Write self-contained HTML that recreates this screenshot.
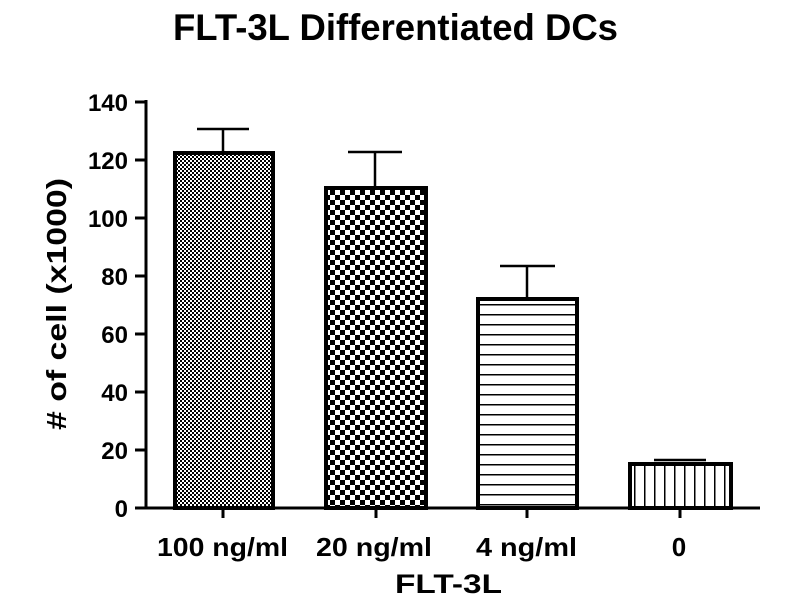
<!DOCTYPE html>
<html><head><style>body{margin:0;background:#fff}</style></head><body>
<svg width="800" height="600" xmlns="http://www.w3.org/2000/svg" font-family="Liberation Sans, sans-serif" font-weight="bold">
<defs>
<pattern id="p1" width="4" height="4" patternUnits="userSpaceOnUse"><rect width="4" height="4" fill="#fff"/><rect width="2" height="2" fill="#000"/><rect x="2" y="2" width="2" height="2" fill="#000"/></pattern>
<pattern id="p2" width="10" height="10" patternUnits="userSpaceOnUse"><rect width="10" height="10" fill="#fff"/><rect width="5" height="5" fill="#000"/><rect x="5" y="5" width="5" height="5" fill="#000"/></pattern>
<pattern id="p3" width="10" height="10" patternUnits="userSpaceOnUse"><rect width="10" height="10" fill="#fff"/><rect y="4" width="10" height="1.5" fill="#000"/></pattern>
<pattern id="p4" width="10" height="10" patternUnits="userSpaceOnUse"><rect width="10" height="10" fill="#fff"/><rect x="4" width="1.5" height="10" fill="#000"/></pattern>
</defs>
<text x="173" y="40" font-size="37" textLength="445" lengthAdjust="spacingAndGlyphs">FLT-3L Differentiated DCs</text>
<g stroke="#000" stroke-width="3">
<line x1="146" y1="100" x2="146" y2="509"/>
<line x1="146" y1="508" x2="760" y2="508"/>
<line x1="135" y1="102" x2="146" y2="102"/>
<line x1="135" y1="160" x2="146" y2="160"/>
<line x1="135" y1="218" x2="146" y2="218"/>
<line x1="135" y1="276" x2="146" y2="276"/>
<line x1="135" y1="334" x2="146" y2="334"/>
<line x1="135" y1="392" x2="146" y2="392"/>
<line x1="135" y1="450" x2="146" y2="450"/>
<line x1="135" y1="508" x2="146" y2="508"/>
<line x1="223" y1="508" x2="223" y2="518"/>
<line x1="376" y1="508" x2="376" y2="518"/>
<line x1="527" y1="508" x2="527" y2="518"/>
<line x1="680" y1="508" x2="680" y2="518"/>
</g>
<g stroke="#000" stroke-width="2.5">
<line x1="223" y1="151" x2="223" y2="129"/><line x1="197" y1="129" x2="249" y2="129"/>
<line x1="375" y1="186" x2="375" y2="152"/><line x1="348" y1="152" x2="402" y2="152"/>
<line x1="527" y1="297" x2="527" y2="266"/><line x1="500" y1="266" x2="555" y2="266"/>
<line x1="654" y1="460" x2="706" y2="460"/>
</g>
<g stroke="#000" stroke-width="4">
<rect x="175" y="153" width="98" height="355" fill="url(#p1)"/>
<rect x="326" y="188" width="100" height="320" fill="url(#p2)"/>
<rect x="478" y="299" width="99" height="209" fill="url(#p3)"/>
<rect x="630" y="464" width="101" height="44" fill="url(#p4)"/>
</g>
<g font-size="24" text-anchor="end">
<text x="128" y="111">140</text><text x="128" y="169">120</text><text x="128" y="227">100</text>
<text x="128" y="285">80</text><text x="128" y="343">60</text><text x="128" y="401">40</text>
<text x="128" y="459">20</text><text x="128" y="517">0</text>
</g>
<g font-size="26">
<text x="157" y="556" textLength="131" lengthAdjust="spacingAndGlyphs">100 ng/ml</text>
<text x="316" y="556" textLength="116" lengthAdjust="spacingAndGlyphs">20 ng/ml</text>
<text x="476" y="556" textLength="101" lengthAdjust="spacingAndGlyphs">4 ng/ml</text>
<text x="679" y="556" text-anchor="middle">0</text>
</g>
<text x="395" y="593" font-size="27" textLength="107" lengthAdjust="spacingAndGlyphs">FLT-3L</text>
<text transform="translate(66,430) rotate(-90)" font-size="28" textLength="252" lengthAdjust="spacingAndGlyphs"># of cell (x1000)</text>
</svg>
</body></html>
